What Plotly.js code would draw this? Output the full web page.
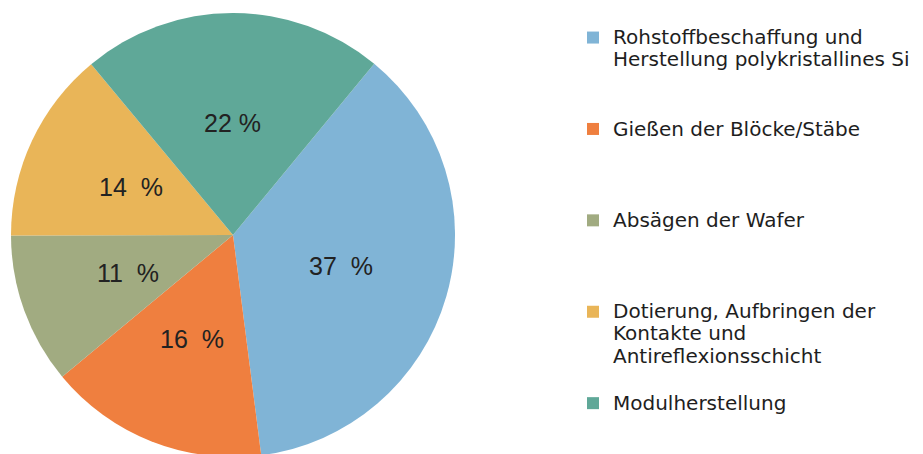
<!DOCTYPE html>
<html><head><meta charset="utf-8">
<script src="https://cdn.plot.ly/plotly-3.0.1.min.js"></script>
<style>html,body{margin:0;padding:0;overflow:hidden;background:#fff}</style>
</head><body>
<div id="chart" style="width:923px;height:470px"></div>
<script>
var categories = [
  "Rohstoffbeschaffung und<br>Herstellung polykristallines Si",
  "Gießen der Blöcke/Stäbe",
  "Absägen der Wafer",
  "Dotierung, Aufbringen der<br>Kontakte und<br>Antireflexionsschicht",
  "Modulherstellung"
];
var values = [37, 16, 11, 14, 22];
var valueLabels = ["37  %", "16  %", "11  %", "14  %", "22 %"];
var colors = ["#80b4d6", "#ef7f3f", "#a1ab81", "#e9b558", "#5fa898"];

var W = 923, H = 470;
var startAngle = 39.5;
var pieDomainX = [11 / W, 455 / W];
var pieDomainY = [1 - 457 / H, 1 - 13 / H];

// legend entries: bigger visible text, padded to 4 legend lines each (except the last)
function legendLabel(c, i) {
  var lines = c.split("<br>");
  var out = lines.map(function(l){ return '<span style="font-size:20px">' + l + '</span>'; });
  if (i < categories.length - 1) { while (out.length < 4) out.push(" "); }
  return out.join("<br>");
}

var trace = {
  type: "pie",
  labels: categories.map(legendLabel),
  values: values,
  textinfo: "none",
  hoverinfo: "label+percent",
  sort: false,
  direction: "clockwise",
  rotation: startAngle,
  marker: {colors: colors, line: {width: 0}},
  domain: {x: pieDomainX, y: pieDomainY}
};

// value labels at half radius, along each slice's middle angle
var total = values.reduce(function(a, b){ return a + b; }, 0);
var cx = (pieDomainX[0] + pieDomainX[1]) / 2;
var cy = (pieDomainY[0] + pieDomainY[1]) / 2;
var rPx = Math.min((pieDomainX[1] - pieDomainX[0]) * W, (pieDomainY[1] - pieDomainY[0]) * H) / 2;
var labelR = rPx * 0.505;
var annotations = [];
var cum = 0;
values.forEach(function(v, i){
  var mid = (startAngle + (cum + v / 2) / total * 360) * Math.PI / 180;
  cum += v;
  annotations.push({
    xref: "paper", yref: "paper",
    x: cx + labelR * Math.sin(mid) / W,
    y: cy + labelR * Math.cos(mid) / H,
    xanchor: "center", yanchor: "middle",
    text: valueLabels[i], showarrow: false,
    font: {family: "Liberation Sans, Arial, sans-serif", size: 25, color: "#222"}
  });
});

var layout = {
  width: W, height: H,
  margin: {l: 0, r: 0, t: 0, b: 0},
  paper_bgcolor: "#fff",
  showlegend: true,
  annotations: annotations,
  legend: {
    x: 573 / W, xanchor: "left", y: 1 - 20 / H, yanchor: "top",
    valign: "top",
    font: {family: "DejaVu Sans, sans-serif", size: 17, color: "#1e1e1e"},
    bgcolor: "rgba(0,0,0,0)"
  }
};
Plotly.newPlot("chart", [trace], layout, {displayModeBar: false, staticPlot: true});
</script>
</body></html>
